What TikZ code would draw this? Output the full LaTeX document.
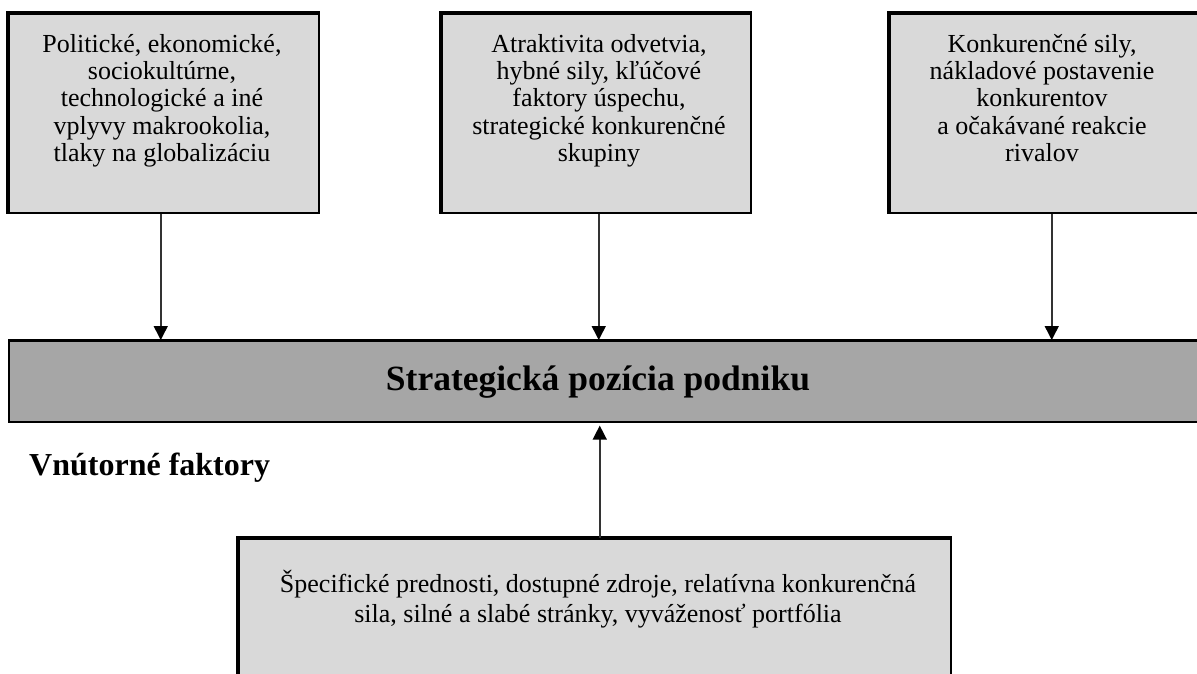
\documentclass[tikz,border=0pt]{standalone}
\usepackage{fontspec}
\setmainfont{Liberation Serif}
\usetikzlibrary{arrows.meta}

\definecolor{boxgray}{HTML}{D9D9D9}
\definecolor{bargray}{HTML}{A6A6A6}
\definecolor{linegray}{HTML}{333333}

\tikzset{
  factorbox/.style={fill=boxgray, draw=black, line width=1.5pt, anchor=north west, inner sep=0pt},
  barbox/.style={fill=bargray, draw=black, line width=1.6pt, anchor=north west, inner sep=0pt},
  heavyedge/.style={draw=black, line width=3.1pt, line join=miter},
  boxtext/.style={font={\fontsize{26}{27.3}\selectfont}, align=center, inner sep=0pt, anchor=north},
  wideboxtext/.style={font={\fontsize{26}{29.5}\selectfont}, align=center, inner sep=0pt, anchor=north},
  headtext/.style={font={\fontsize{32}{38}\selectfont\bfseries}, inner sep=0pt},
  arr/.style={draw=linegray, line width=1.5pt, -{Triangle[width=14pt,length=14pt,color=black]}}
}

\begin{document}
\begin{tikzpicture}[x=1pt,y=-1pt]
\useasboundingbox (0,0) rectangle (1197,673);
\clip (0,0) rectangle (1197,673);

% external factor boxes
\node[factorbox, minimum width=310pt, minimum height=199pt] (b1) at (8,13) {};
\node[factorbox, minimum width=309pt, minimum height=199pt] (b2) at (441,13) {};
\node[factorbox, minimum width=330pt, minimum height=199pt] (b3) at (889,13) {};
\foreach \b in {b1,b2,b3}
  \draw[heavyedge] (\b.south west) -- (\b.north west) -- (\b.north east);

% central bar
\node[barbox, minimum width=1210pt, minimum height=81pt] (bar) at (8,340) {};
\draw[heavyedge, line width=2.6pt] (bar.north west) -- (bar.north east);

% internal factor box
\node[factorbox, minimum width=712pt, minimum height=160pt] (b4) at (238,538) {};
\draw[heavyedge] (b4.south west) -- (b4.north west) -- (b4.north east);

% texts
\node[boxtext] (t1) at (162,33) {\strut Politické, ekonomické,\\ sociokultúrne,\\ technologické a iné\\ vplyvy makrookolia,\\ tlaky na globalizáciu};
\node[boxtext] (t2) at (599,33) {\strut Atraktivita odvetvia,\\ hybné sily, kľúčové\\ faktory úspechu,\\ strategické konkurenčné\\ skupiny};
\node[boxtext] (t3) at (1042,33) {\strut Konkurenčné sily,\\ nákladové postavenie\\ konkurentov\\ a očakávané reakcie\\ rivalov};
\node[wideboxtext] (t4) at (598,570) {\strut Špecifické prednosti, dostupné zdroje, relatívna konkurenčná\\ sila, silné a slabé stránky, vyváženosť portfólia};

\node[headtext, font={\fontsize{35.5}{40}\selectfont\bfseries}] (tbar) at (598,382) {Strategická pozícia podniku};
\node[headtext, anchor=base west] (tin) at (29,475) {Vnútorné faktory};

% connectors
\draw[arr] ([xshift=-3pt]b1.south) -- ([xshift=-3pt]b1.south |- bar.north);
\draw[arr] ([xshift=2.5pt]b2.south) -- ([xshift=2.5pt]b2.south |- bar.north);
\draw[arr] ([xshift=-3pt]b3.south) -- ([xshift=-3pt]b3.south |- bar.north);
\draw[arr, shorten >=3pt] ([xshift=5pt]b4.north) -- ([xshift=5pt]b4.north |- bar.south);
\end{tikzpicture}
\end{document}
